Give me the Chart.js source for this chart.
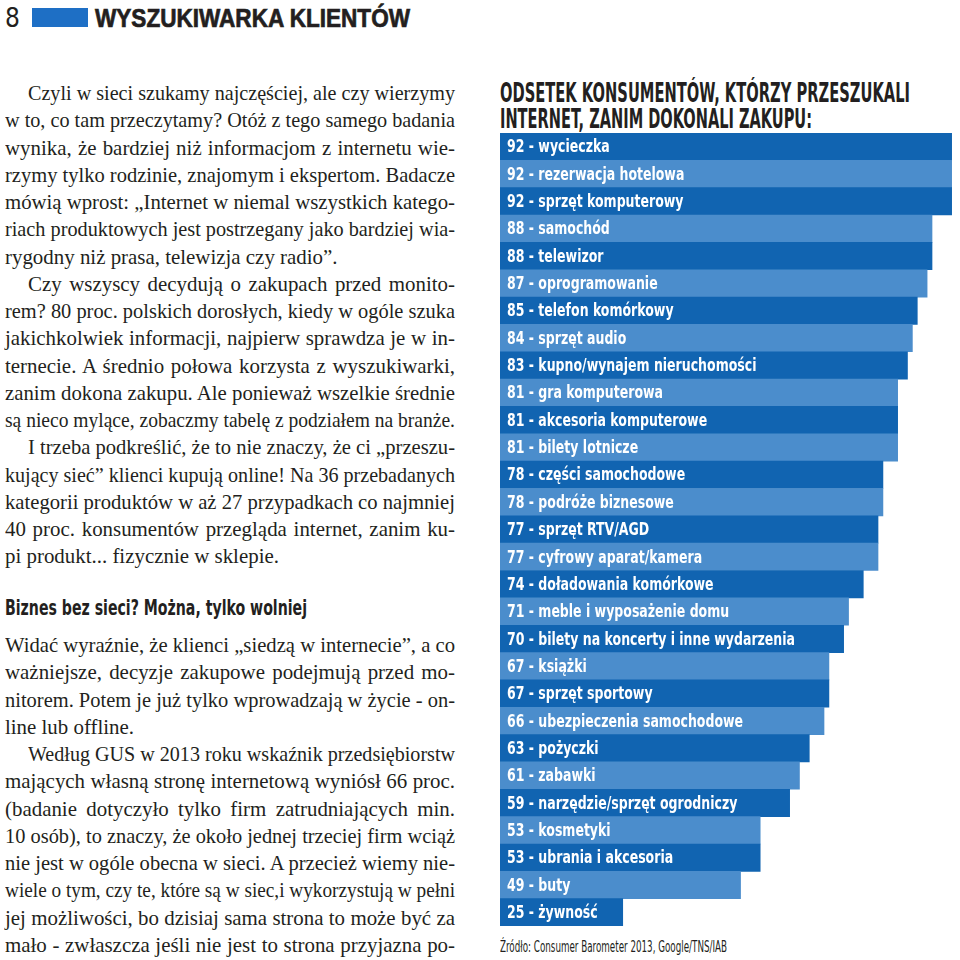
<!DOCTYPE html>
<html lang="pl">
<head>
<meta charset="utf-8">
<title>Wyszukiwarka klientów</title>
<script src="https://cdn.jsdelivr.net/npm/chart.js@4.4.1/dist/chart.umd.min.js"></script>
<style>
  html, body { margin: 0; padding: 0; background: #fff; }
  body { width: 960px; height: 960px; position: relative; overflow: hidden; color: #231f20; }
  .abs { position: absolute; white-space: nowrap; line-height: 1; }
  .abs > span { display: inline-block; transform-origin: 0 50%; }
  .narrow { font-family: "Liberation Sans Narrow", "DejaVu Sans Condensed", sans-serif; }
  .col { position: absolute; left: 5px; width: 450px; font-family: "Liberation Serif", serif; font-size: 22px; }
  .ln { height: 27.25px; line-height: 27.25px; white-space: nowrap; }
  .ln > span { display: inline-block; transform-origin: 0 50%; }
  .ind { padding-left: 23px; }
  #chartBox { position: absolute; left: 500px; top: 133px; width: 460px; height: 793px; }
</style>
</head>
<body>

<div class="abs narrow" style="left:5px; top:5px; font-size:26px;">8</div>
<div style="position:absolute; left:32px; top:8px; width:56px; height:19px; background:#1e6fc5;"></div>
<div class="abs" style="left:95px; top:5px; font-family:'Liberation Sans', sans-serif; font-weight:bold; font-size:26px; -webkit-text-stroke:0.7px #231f20;"><span data-fit="315">WYSZUKIWARKA KLIENTÓW</span></div>

<div class="col" style="top:79px;">
  <div class="ln ind"><span>Czyli w sieci szukamy najczęściej, ale czy wierzymy</span></div>
  <div class="ln"><span>w to, co tam przeczytamy? Otóż z tego samego badania</span></div>
  <div class="ln"><span>wynika, że bardziej niż informacjom z internetu wie-</span></div>
  <div class="ln"><span>rzymy tylko rodzinie, znajomym i ekspertom. Badacze</span></div>
  <div class="ln"><span>mówią wprost: „Internet w niemal wszystkich katego-</span></div>
  <div class="ln"><span>riach produktowych jest postrzegany jako bardziej wia-</span></div>
  <div class="ln last"><span>rygodny niż prasa, telewizja czy radio”.</span></div>
  <div class="ln ind"><span>Czy wszyscy decydują o zakupach przed monito-</span></div>
  <div class="ln"><span>rem? 80 proc. polskich dorosłych, kiedy w ogóle szuka</span></div>
  <div class="ln"><span>jakichkolwiek informacji, najpierw sprawdza je w in-</span></div>
  <div class="ln"><span>ternecie. A średnio połowa korzysta z wyszukiwarki,</span></div>
  <div class="ln"><span>zanim dokona zakupu. Ale ponieważ wszelkie średnie</span></div>
  <div class="ln"><span>są nieco mylące, zobaczmy tabelę z podziałem na branże.</span></div>
  <div class="ln ind"><span>I trzeba podkreślić, że to nie znaczy, że ci „przeszu-</span></div>
  <div class="ln"><span>kujący sieć” klienci kupują online! Na 36 przebadanych</span></div>
  <div class="ln"><span>kategorii produktów w aż 27 przypadkach co najmniej</span></div>
  <div class="ln"><span>40 proc. konsumentów przegląda internet, zanim ku-</span></div>
  <div class="ln last"><span>pi produkt... fizycznie w sklepie.</span></div>
</div>

<div class="abs narrow" style="left:5px; top:598px; font-size:21px; font-weight:bold;"><span data-fit="302">Biznes bez sieci? Można, tylko wolniej</span></div>

<div class="col" style="top:631px;">
  <div class="ln"><span>Widać wyraźnie, że klienci „siedzą w internecie”, a co</span></div>
  <div class="ln"><span>ważniejsze, decyzje zakupowe podejmują przed mo-</span></div>
  <div class="ln"><span>nitorem. Potem je już tylko wprowadzają w życie - on-</span></div>
  <div class="ln last"><span>line lub offline.</span></div>
  <div class="ln ind"><span>Według GUS w 2013 roku wskaźnik przedsiębiorstw</span></div>
  <div class="ln"><span>mających własną stronę internetową wyniósł 66 proc.</span></div>
  <div class="ln"><span>(badanie dotyczyło tylko firm zatrudniających min.</span></div>
  <div class="ln"><span>10 osób), to znaczy, że około jednej trzeciej firm wciąż</span></div>
  <div class="ln"><span>nie jest w ogóle obecna w sieci. A przecież wiemy nie-</span></div>
  <div class="ln"><span>wiele o tym, czy te, które są w siec,i wykorzystują w pełni</span></div>
  <div class="ln"><span>jej możliwości, bo dzisiaj sama strona to może być za</span></div>
  <div class="ln"><span>mało - zwłaszcza jeśli nie jest to strona przyjazna po-</span></div>
</div>

<div class="abs narrow" style="left:500px; top:79px; font-size:27px; font-weight:bold;"><span data-fit="410">ODSETEK KONSUMENTÓW, KTÓRZY PRZESZUKALI</span></div>
<div class="abs narrow" style="left:500px; top:105px; font-size:27px; font-weight:bold;"><span data-fit="312">INTERNET, ZANIM DOKONALI ZAKUPU:</span></div>

<div id="chartBox"><canvas id="myChart" width="460" height="793"></canvas></div>

<div class="abs narrow" style="left:500px; top:939px; font-size:16px;"><span data-fit="227">Źródło: Consumer Barometer 2013, Google/TNS/IAB</span></div>

<script>
// Odsetek konsumentów, którzy przeszukali internet przed zakupem (%)
const categories = [
    'wycieczka', 'rezerwacja hotelowa', 'sprzęt komputerowy', 'samochód', 'telewizor',
    'oprogramowanie', 'telefon komórkowy', 'sprzęt audio', 'kupno/wynajem nieruchomości',
    'gra komputerowa', 'akcesoria komputerowe', 'bilety lotnicze', 'części samochodowe',
    'podróże biznesowe', 'sprzęt RTV/AGD', 'cyfrowy aparat/kamera', 'doładowania komórkowe',
    'meble i wyposażenie domu', 'bilety na koncerty i inne wydarzenia', 'książki',
    'sprzęt sportowy', 'ubezpieczenia samochodowe', 'pożyczki', 'zabawki',
    'narzędzie/sprzęt ogrodniczy', 'kosmetyki', 'ubrania i akcesoria', 'buty', 'żywność'
];
const values = [92, 92, 92, 88, 88, 87, 85, 84, 83, 81, 81, 81, 78, 78, 77, 77, 74, 71, 70, 67, 67, 66, 63, 61, 59, 53, 53, 49, 25];

const DARK = '#1164b1';
const LIGHT = '#4b8dcc';

// squeeze a line of text horizontally so it fills the given width
function fitWidth(span, target) {
    const w = span.getBoundingClientRect().width;
    span.style.transform = `scaleX(${target / w})`;
}

// justified columns: condensed a bit, spaces stretched to fill the line
function justifyColumn() {
    const S = 0.95;
    document.querySelectorAll('.ln').forEach(ln => {
        const span = ln.querySelector('span');
        const target = 450 - (ln.classList.contains('ind') ? 23 : 0);
        const w = span.getBoundingClientRect().width;
        if (w * S > target) {
            span.style.transform = `scaleX(${target / w})`;
            return;
        }
        span.style.transform = `scaleX(${S})`;
        if (!ln.classList.contains('last')) {
            const gaps = (span.textContent.match(/ /g) || []).length;
            if (gaps) span.style.wordSpacing = ((target / S - w) / gaps) + 'px';
        }
    });
}

const barLabels = {
    id: 'barLabels',
    afterDatasetsDraw(chart) {
        const { ctx, chartArea } = chart;
        const meta = chart.getDatasetMeta(0);
        ctx.save();
        ctx.font = 'bold 18px "Liberation Sans Narrow", "DejaVu Sans Condensed", sans-serif';
        ctx.fillStyle = '#fff';
        ctx.textBaseline = 'middle';
        ctx.textAlign = 'left';
        // the longest label spans about 288px in print
        const texts = values.map((v, i) => `${v} - ${categories[i]}`);
        const widest = Math.max(...texts.map(t => ctx.measureText(t).width));
        const sx = Math.min(1, 288 / widest);
        meta.data.forEach((bar, i) => {
            ctx.save();
            ctx.translate(chartArea.left + 7, bar.y + 1);
            ctx.scale(sx, 1);
            ctx.fillText(texts[i], 0, 0);
            ctx.restore();
        });
        ctx.restore();
    }
};

document.addEventListener('DOMContentLoaded', () => {
    document.querySelectorAll('[data-fit]').forEach(s => fitWidth(s, +s.dataset.fit));
    justifyColumn();

    const canvas = document.getElementById('myChart');
    new Chart(canvas.getContext('2d'), {
        type: 'bar',
        data: {
            labels: categories,
            datasets: [{
                data: values,
                backgroundColor: values.map((_, i) => i % 2 ? LIGHT : DARK),
                borderWidth: 0,
                barPercentage: 1,
                categoryPercentage: 1
            }]
        },
        options: {
            indexAxis: 'y',
            responsive: false,
            animation: false,
            layout: { padding: 0 },
            plugins: {
                legend: { display: false },
                tooltip: { enabled: false }
            },
            scales: {
                x: { min: 0, max: 93.7, display: false },
                y: { display: false }
            }
        },
        plugins: [barLabels]
    });
});
</script>
</body>
</html>
